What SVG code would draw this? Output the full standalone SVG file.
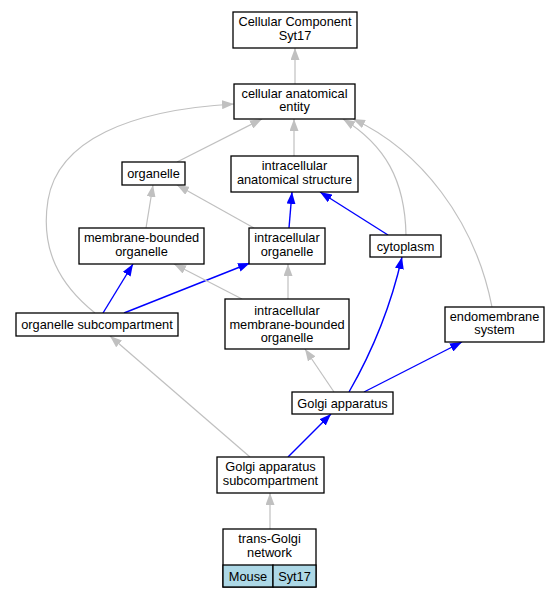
<svg xmlns="http://www.w3.org/2000/svg" width="560" height="597" viewBox="0 0 560 597">
<style>
.n rect{fill:#fff;stroke:#000;stroke-width:1.3}
.n text{font-family:"Liberation Sans",Arial,sans-serif;font-size:12.8px;text-anchor:middle;fill:#000}
.g{fill:none;stroke:#c0c0c0;stroke-width:1.2;marker-end:url(#ag)}
.b{fill:none;stroke:#0000ff;stroke-width:1.4;marker-end:url(#ab)}
rect.cell{fill:#add8e6}
</style>
<defs>
<marker id="ag" viewBox="0 0 12 9" refX="12" refY="4.5" markerWidth="12" markerHeight="9" markerUnits="userSpaceOnUse" orient="auto"><path d="M0,0 L12,4.5 L0,9 z" fill="#c0c0c0"/></marker>
<marker id="ab" viewBox="0 0 12 9" refX="12" refY="4.5" markerWidth="12" markerHeight="9" markerUnits="userSpaceOnUse" orient="auto"><path d="M0,0 L12,4.5 L0,9 z" fill="#0000ff"/></marker>
</defs>
<rect width="560" height="597" fill="#fff"/>
<g id="edges">
<path class="g" d="M295,84 L295,48"/>
<path class="g" d="M177,162 L262,119"/>
<path class="g" d="M294,156 L294,119"/>
<path class="g" d="M95,313 C60,285 40,250 48,200 C58,140 130,110 234,104"/>
<path class="g" d="M406,235 C405,180 385,145 343,119"/>
<path class="g" d="M492,307 C475,220 420,150 353,119"/>
<path class="g" d="M146,228 L153,185"/>
<path class="g" d="M254,228 L177,185"/>
<path class="b" d="M289,228 L292,192"/>
<path class="b" d="M388,235 L320,192"/>
<path class="b" d="M103,313 L133,264"/>
<path class="b" d="M124,313 L250,263"/>
<path class="g" d="M242,299 L174,264"/>
<path class="g" d="M288,299 L288,264"/>
<path class="b" d="M349,392 C372,352 390,310 402,257"/>
<path class="b" d="M364,392 L462,342"/>
<path class="g" d="M334,392 L305,349"/>
<path class="g" d="M250,457 L110,336"/>
<path class="b" d="M288,457 L331,414"/>
<path class="g" d="M270,529 L270,493"/>
</g>
<g id="n_cc" class="n"><rect x="233" y="12" width="124" height="36"/><text x="295" y="26">Cellular Component</text><text x="295" y="39.5">Syt17</text></g>
<g id="n_cae" class="n"><rect x="234" y="84" width="121" height="35"/><text x="294.5" y="97.5">cellular anatomical</text><text x="294.5" y="111">entity</text></g>
<g id="n_organelle" class="n"><rect x="122" y="162" width="63" height="23"/><text x="153.5" y="178">organelle</text></g>
<g id="n_ias" class="n"><rect x="231" y="156" width="127" height="36"/><text x="294.5" y="170">intracellular</text><text x="294.5" y="183.5">anatomical structure</text></g>
<g id="n_mbo" class="n"><rect x="79" y="228" width="125" height="36"/><text x="141.5" y="242">membrane-bounded</text><text x="141.5" y="255.5">organelle</text></g>
<g id="n_io" class="n"><rect x="249" y="228" width="76" height="36"/><text x="287" y="242">intracellular</text><text x="287" y="255.5">organelle</text></g>
<g id="n_cytoplasm" class="n"><rect x="370" y="235" width="71" height="22"/><text x="405.5" y="250.5">cytoplasm</text></g>
<g id="n_orgsub" class="n"><rect x="16" y="313" width="162" height="23"/><text x="97" y="329">organelle subcompartment</text></g>
<g id="n_imbo" class="n"><rect x="225" y="299" width="124" height="50"/><text x="287" y="315">intracellular</text><text x="287" y="328.5">membrane-bounded</text><text x="287" y="342">organelle</text></g>
<g id="n_endo" class="n"><rect x="445" y="307" width="99" height="35"/><text x="494.5" y="320.5">endomembrane</text><text x="494.5" y="334">system</text></g>
<g id="n_golgi" class="n"><rect x="292" y="392" width="101" height="22"/><text x="342.5" y="407.5">Golgi apparatus</text></g>
<g id="n_gas" class="n"><rect x="217" y="457" width="107" height="36"/><text x="270.5" y="471">Golgi apparatus</text><text x="270.5" y="484.5">subcompartment</text></g>
<g id="n_tgn" class="n"><rect x="223" y="529" width="93" height="58"/><text x="269.5" y="543">trans-Golgi</text><text x="269.5" y="556.5">network</text><rect class="cell" x="223" y="565" width="50" height="22"/><rect class="cell" x="273" y="565" width="43" height="22"/><text x="248" y="580.5">Mouse</text><text x="294.5" y="580.5">Syt17</text></g>
</svg>
